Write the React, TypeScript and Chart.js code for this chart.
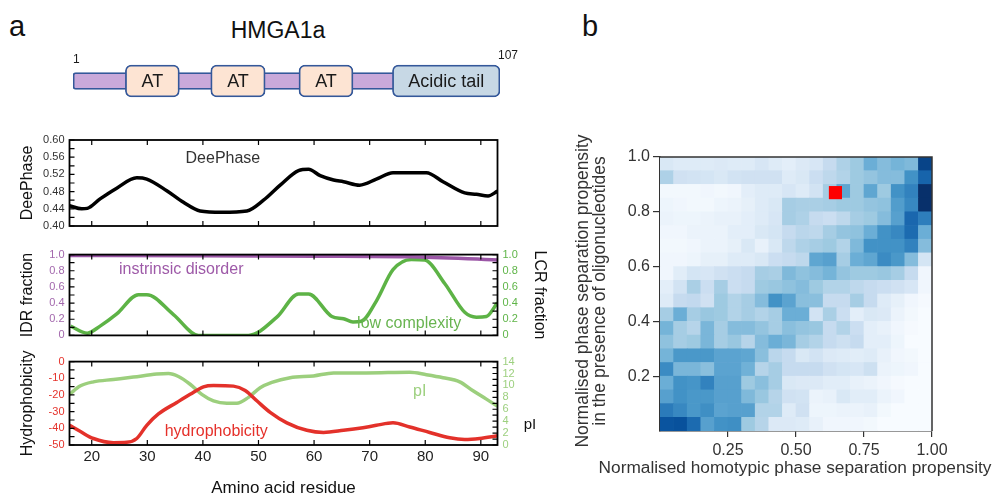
import React, { useEffect, useRef } from 'react';
import { Chart, registerables } from 'chart.js';
Chart.register(...registerables);

const FONT = '"Liberation Sans", Arial, Helvetica, sans-serif';

// ---------- Domain diagram ----------
const SEQ_START = 1;
const SEQ_END = 107;
const DOMAIN_LABELS = ['AT', 'AT', 'AT', 'Acidic tail'];
const DOMAIN_START = [14, 35.2, 57.1, 80.3];
const DOMAIN_END = [27.4, 48.7, 70.5, 107];
const BACKBONE = [1, 81];

// ---------- Residue profiles ----------
const X_MIN = 16;
const X_MAX = 93;
const X_TICKS = [20, 30, 40, 50, 60, 70, 80, 90];

const DEEPHASE_X = [16, 18.2, 19.2, 21.5, 24.5, 28.1, 29.9, 33.5, 36.5, 39.5, 43.4, 47.9, 50.9, 53.9, 57.2, 59, 61.1, 63.5, 65.3, 68.2, 71.2, 74.2, 80.2, 83.2, 87.1, 89.2, 91.3, 93];
const DEEPHASE_Y = [0.447, 0.44, 0.441, 0.463, 0.488, 0.512, 0.509, 0.482, 0.455, 0.435, 0.432, 0.435, 0.46, 0.495, 0.529, 0.532, 0.517, 0.507, 0.503, 0.495, 0.509, 0.524, 0.524, 0.503, 0.477, 0.474, 0.47, 0.481];

const IDR_X = [16, 40, 60, 77, 93];
const IDR_Y = [0.988, 0.986, 0.98, 0.972, 0.934];

const LCR_X = [16.2, 19.2, 21.5, 24.5, 28.4, 29.9, 34.7, 39.2, 48.2, 53.3, 57.2, 59, 63.2, 65.3, 67, 68.5, 71.2, 74.2, 77.5, 79.9, 83.5, 87.1, 89.2, 91, 93];
const LCR_Y = [0.115, 0.028, 0.115, 0.266, 0.504, 0.504, 0.258, 0.0, 0.0, 0.226, 0.512, 0.512, 0.234, 0.206, 0.167, 0.175, 0.425, 0.813, 0.94, 0.933, 0.643, 0.286, 0.226, 0.234, 0.405];

const HYD_X = [16, 17.9, 20.3, 23.9, 26.3, 28.1, 29.9, 32, 35.3, 37.7, 40.1, 41.9, 45.5, 47.6, 49.7, 52.1, 55.1, 58.7, 61.7, 65.3, 68.8, 71.2, 74.2, 77.2, 80.8, 84.4, 87.1, 89.8, 93];
const HYD_Y = [-38.2, -41.8, -46.1, -48.6, -48.4, -46.1, -38.2, -31.4, -24.5, -19.6, -15.1, -14.3, -14.7, -17.3, -23.5, -30.4, -36.7, -41.2, -42.5, -41.2, -39.6, -38.2, -36.7, -39.2, -42.5, -45.7, -46.7, -46.1, -44.5];

const PI_X = [16, 17.9, 20.3, 23.9, 27.5, 31.7, 33.8, 35.6, 37.7, 39.8, 41.9, 44.3, 46.1, 48.2, 50.3, 52.4, 55.7, 59.9, 63.5, 69.4, 77.2, 80.2, 83.2, 86.2, 88.6, 91, 93];
const PI_Y = [8.5, 9.9, 10.6, 11.0, 11.4, 11.9, 12.0, 11.5, 10.2, 8.5, 7.4, 7.0, 7.0, 8.0, 9.6, 10.5, 11.3, 11.6, 12.1, 12.1, 12.2, 11.8, 11.3, 10.6, 9.1, 7.7, 6.5];

const DEEPHASE_TICKS = [0.4, 0.42, 0.44, 0.46, 0.48, 0.5, 0.52, 0.54, 0.56, 0.58, 0.6];
const FRACTION_TICKS = [0, 0.1, 0.2, 0.3, 0.4, 0.5, 0.6, 0.7, 0.8, 0.9, 1];
const HYD_TICKS = [-50, -45, -40, -35, -30, -25, -20, -15, -10, -5, 0];
const PI_TICKS = [0, 1, 2, 3, 4, 5, 6, 7, 8, 9, 10, 11, 12, 13, 14];

// ---------- Heatmap (rows listed top -> bottom, 0..8 on the Blues scale) ----------
const HEAT_BINS = 20;
const HEAT_VALUES = [
  [1.2, 1, 1, 1, 1.1, 1, 1, 1.3, 1, 0.8, 1.1, 1.3, 2, 2.6, 3, 4, 3.5, 3.8, 3.6, 7.4],
  [2.6, 1.6, 1.5, 1.4, 1.2, 1.5, 1.6, 1.6, 1.6, 1.0, 1.2, 1.8, 2.2, 2.5, 3, 3.2, 3.5, 3.5, 5, 6.4],
  [0.2, 0.2, 0.2, 0.3, 0.2, 0.3, 0.8, 1, 1, 1.3, 1, 1.5, 2.8, 4.3, 3, 4.3, 3, 5, 5.5, 8],
  [0.4, 0.3, 0.2, 0.2, 0.4, 0.5, 0.7, 1, 1.2, 2.8, 2.7, 2.7, 2.8, 3, 3, 3.2, 3.3, 4.6, 5.3, 8],
  [0.5, 0.4, 0.4, 0.5, 0.6, 0.6, 0.8, 1, 1.3, 2.8, 2.6, 2, 1.8, 2.2, 2.8, 3, 3.5, 4.5, 6.3, 5.6],
  [0.3, 0.3, 0.5, 0.5, 0.5, 0.8, 0.8, 1.2, 1.4, 2, 2.3, 2.2, 2.8, 3.2, 3.3, 4, 5, 5.3, 6.2, 4],
  [0.2, 0.2, 0.3, 0.5, 0.5, 0.7, 1.2, 0.6, 1.2, 2.2, 2.6, 2.8, 3, 2.5, 3.6, 5, 5, 5, 5.5, 3.5],
  [0.3, 0.3, 0.4, 0.7, 0.7, 1, 1, 1.2, 1.8, 2, 2.2, 4.3, 4.5, 2.8, 4, 4.3, 5.2, 4.8, 3.5, 1.4],
  [0.3, 0.9, 1.4, 1.3, 1.6, 1.8, 2, 2.8, 2.7, 3.6, 3.3, 3.5, 3.8, 3.2, 3, 3, 3.1, 2.8, 2, 0.3],
  [0.8, 1.5, 2.7, 1.8, 2.8, 1.8, 2, 3, 3.1, 3.3, 3.5, 3, 2.5, 2.5, 2.2, 2, 1.8, 1.6, 1.3, 0.3],
  [1, 2, 2.1, 1.6, 3, 2.5, 2.8, 3.5, 5, 4.4, 3.4, 3.4, 2, 2, 2.8, 2, 1, 0.7, 0.3, 0.1],
  [2.8, 4, 2.8, 3.1, 3, 2.5, 2.8, 2.5, 2.8, 4, 4, 1.5, 2.7, 1.8, 0.8, 1.2, 1.1, 0.5, 0.2, 0],
  [3.8, 2.8, 2.4, 3.7, 2.8, 3.5, 3.5, 3.2, 2.8, 3.4, 3.2, 3.1, 2, 2.5, 1.8, 0.8, 0.6, 0.3, 0.1, 0],
  [3.3, 2.8, 3, 3.7, 2.8, 3.1, 2.4, 3.5, 4, 3.7, 2.8, 2.5, 2, 1.7, 2, 0.8, 0.8, 0.4, 0, 0],
  [3.8, 4.8, 4.8, 4.8, 4.4, 4.4, 4.3, 3.4, 2.3, 2, 1.2, 1.5, 1.1, 1, 0.9, 1, 0.6, 0.3, 0.2, 0],
  [5.2, 3.7, 3.7, 3.4, 4.4, 4.4, 3.9, 2.4, 2.8, 2, 2, 2, 1.6, 1.4, 1.3, 1.7, 0.5, 0.4, 0.3, 0],
  [4, 5, 4.9, 5.5, 4.5, 4.5, 3, 3.4, 2.8, 1.2, 1.1, 1.1, 0.9, 0.9, 0.6, 0.5, 0.3, 0.1, 0, 0],
  [4.5, 5, 4.8, 4.8, 4.5, 4.5, 3.6, 3.1, 2.4, 1.6, 1.5, 0.5, 0.6, 1.2, 0.9, 0.9, 0.5, 0.3, 0, 0],
  [5.7, 5.3, 4.8, 5.1, 4.4, 4.5, 4.5, 2.5, 2.5, 1, 1.6, 0.4, 0.4, 0.5, 0.5, 0.6, 0.2, 0, 0, 0],
  [6.9, 7, 6.2, 4.5, 5, 5.1, 3, 2.4, 1.1, 1.1, 1, 0.6, 0.3, 0.3, 0.3, 0.2, 0, 0, 0, 0],
];
const HMGA1A_X = [0.645];
const HMGA1A_Y = [0.87];
const HEAT_X_TICKS = ['0.25', '0.50', '0.75', '1.00'];
const HEAT_Y_TICKS = ['0.2', '0.4', '0.6', '0.8', '1.0'];
const HEAT_X_TITLE = 'Normalised homotypic phase separation propensity';
const HEAT_Y_TITLE = ['Normalised phase separation propensity', 'in the presence of oligonucleotides'];

const BLUES = ['#f7fbff', '#deebf7', '#c6dbef', '#9ecae1', '#6baed6', '#4292c6', '#2171b5', '#08519c', '#08306b'];
function hexToRgb(h: string) {
  return [parseInt(h.slice(1, 3), 16), parseInt(h.slice(3, 5), 16), parseInt(h.slice(5, 7), 16)];
}
function blues(v: number) {
  const t = Math.max(0, Math.min(8, v));
  const i = Math.min(7, Math.floor(t));
  const f = t - i;
  const a = hexToRgb(BLUES[i]);
  const b = hexToRgb(BLUES[i + 1]);
  const c = a.map((x, k) => Math.round(x + (b[k] - x) * f));
  return `rgb(${c[0]},${c[1]},${c[2]})`;
}

type Note = { text: string; x: number; y: number; color: string; size: number; yAxis: string };

function decorPlugin(cfg: {
  left?: number[];
  right?: number[];
  rightAxis?: string;
  notes?: Note[];
  sideText?: { text: string; dx: number; dy: number; size: number; color: string };
}) {
  return {
    id: 'decor',
    afterDatasetsDraw(chart: any) {
      const { ctx, chartArea: ca, scales } = chart;
      ctx.save();
      for (const n of cfg.notes || []) {
        ctx.font = `${n.size}px ${FONT}`;
        ctx.fillStyle = n.color;
        ctx.textAlign = 'center';
        ctx.textBaseline = 'middle';
        ctx.fillText(n.text, scales.x.getPixelForValue(n.x), scales[n.yAxis].getPixelForValue(n.y));
      }
      if (cfg.sideText) {
        const s = cfg.sideText;
        ctx.font = `${s.size}px ${FONT}`;
        ctx.fillStyle = s.color;
        ctx.textAlign = 'center';
        ctx.textBaseline = 'middle';
        ctx.fillText(s.text, ca.right + s.dx, ca.top + s.dy);
      }
      ctx.strokeStyle = '#000';
      ctx.lineWidth = 1.2;
      ctx.beginPath();
      for (const v of X_TICKS) {
        const px = scales.x.getPixelForValue(v);
        ctx.moveTo(px, ca.bottom);
        ctx.lineTo(px, ca.bottom - 5);
        ctx.moveTo(px, ca.top);
        ctx.lineTo(px, ca.top + 5);
      }
      for (const v of cfg.left || []) {
        const py = scales.y.getPixelForValue(v);
        ctx.moveTo(ca.left, py);
        ctx.lineTo(ca.left + 5, py);
      }
      if (cfg.rightAxis) {
        for (const v of cfg.right || []) {
          const py = scales[cfg.rightAxis].getPixelForValue(v);
          ctx.moveTo(ca.right, py);
          ctx.lineTo(ca.right - 5, py);
        }
      }
      ctx.stroke();
      ctx.lineWidth = 1.8;
      ctx.strokeRect(ca.left, ca.top, ca.right - ca.left, ca.bottom - ca.top);
      ctx.restore();
    },
  };
}

const noInteract = { legend: { display: false }, tooltip: { enabled: false } };

function yAxis(opts: any) {
  return {
    min: opts.min,
    max: opts.max,
    position: opts.position || 'left',
    ticks: {
      stepSize: opts.step,
      autoSkip: false,
      font: { family: FONT, size: 11 },
      color: opts.color,
      padding: 5,
      callback: opts.fmt,
    },
    grid: { display: false, drawTicks: false },
    border: { display: false },
    title: opts.title
      ? {
          display: true,
          text: opts.title,
          font: { family: FONT, size: 16 },
          color: '#111',
          padding: { top: opts.titlePad, bottom: 0 },
        }
      : { display: false },
    afterFit: (s: any) => {
      s.width = opts.width;
    },
  };
}

function hiddenX() {
  return { type: 'linear', min: X_MIN, max: X_MAX, display: false };
}

function ChartCanvas({ left, top, width, height, build }: { left: number; top: number; width: number; height: number; build: () => any }) {
  const ref = useRef<HTMLCanvasElement>(null);
  useEffect(() => {
    const chart = new Chart(ref.current as HTMLCanvasElement, build());
    return () => chart.destroy();
  }, []);
  return <canvas ref={ref} width={width} height={height} style={{ position: 'absolute', left, top, width, height }} />;
}

function pts(xs: number[], ys: number[]) {
  return xs.map((x, i) => ({ x, y: ys[i] }));
}

function buildDomains() {
  const labelPlugin = {
    id: 'domainLabels',
    afterDatasetsDraw(chart: any) {
      const { ctx, scales } = chart;
      const meta = chart.getDatasetMeta(0);
      ctx.save();
      ctx.fillStyle = '#1a1a1a';
      ctx.textAlign = 'center';
      ctx.textBaseline = 'middle';
      ctx.font = `18px ${FONT}`;
      meta.data.forEach((el: any, i: number) => {
        const p = el.getProps(['x', 'base', 'y'], true);
        ctx.fillText(DOMAIN_LABELS[i], (p.x + p.base) / 2, p.y + 1);
      });
      const yc = (chart.chartArea.top + chart.chartArea.bottom) / 2;
      ctx.font = `12px ${FONT}`;
      ctx.textAlign = 'left';
      ctx.fillText(String(SEQ_START), scales.x.getPixelForValue(SEQ_START), yc - 21);
      ctx.fillText(String(SEQ_END), scales.x.getPixelForValue(SEQ_END) - 2, yc - 25);
      ctx.restore();
    },
  };
  return {
    type: 'bar',
    data: {
      labels: ['HMGA1a'],
      datasets: [
        {
          data: DOMAIN_START.map((s, i) => ({ x: [s, DOMAIN_END[i]], y: 'HMGA1a' })),
          backgroundColor: DOMAIN_LABELS.map((l) => (l === 'AT' ? '#fde4d3' : '#c7d8e5')),
          borderColor: '#34589a',
          borderWidth: 1.8,
          borderSkipped: false,
          borderRadius: 6,
          barThickness: 32,
          grouped: false,
          order: 0,
        },
        {
          data: [{ x: BACKBONE, y: 'HMGA1a' }],
          backgroundColor: '#c9a9da',
          borderColor: '#34589a',
          borderWidth: 1.8,
          borderSkipped: false,
          borderRadius: 3,
          barThickness: 17,
          grouped: false,
          order: 1,
        },
      ],
    },
    options: {
      indexAxis: 'y',
      responsive: false,
      animation: false,
      events: [],
      layout: { padding: { left: 73, right: 60, top: 12, bottom: 0 } },
      scales: {
        x: { type: 'linear', min: SEQ_START, max: SEQ_END, display: false },
        y: { display: false },
      },
      plugins: noInteract,
    },
    plugins: [labelPlugin],
  };
}

function buildDeePhase() {
  return {
    type: 'line',
    data: {
      datasets: [
        {
          data: pts(DEEPHASE_X, DEEPHASE_Y),
          borderColor: '#000',
          borderWidth: 3.5,
          pointRadius: 0,
          cubicInterpolationMode: 'monotone',
        },
      ],
    },
    options: {
      responsive: false,
      animation: false,
      events: [],
      layout: { padding: { top: 12, bottom: 12, right: 62.5, left: 0 } },
      scales: {
        x: hiddenX(),
        y: yAxis({ min: 0.4, max: 0.6, step: 0.04, color: '#333', fmt: (v: any) => Number(v).toFixed(2), title: 'DeePhase', titlePad: 18, width: 69.5 }),
      },
      plugins: noInteract,
    },
    plugins: [
      decorPlugin({
        left: DEEPHASE_TICKS,
        notes: [{ text: 'DeePhase', x: 43.6, y: 0.556, color: '#333', size: 16, yAxis: 'y' }],
      }),
    ],
  };
}

function buildFractions() {
  const fmt = (v: any) => (Number(v) === 0 ? '0' : Number(v).toFixed(1));
  return {
    type: 'line',
    data: {
      datasets: [
        {
          data: pts(IDR_X, IDR_Y),
          borderColor: '#9b56a6',
          borderWidth: 3.5,
          pointRadius: 0,
          yAxisID: 'y',
          cubicInterpolationMode: 'monotone',
        },
        {
          data: pts(LCR_X, LCR_Y),
          borderColor: '#5db346',
          borderWidth: 3.5,
          pointRadius: 0,
          yAxisID: 'y1',
          cubicInterpolationMode: 'monotone',
        },
      ],
    },
    options: {
      responsive: false,
      animation: false,
      events: [],
      layout: { padding: { top: 10, bottom: 10, right: 0, left: 0 } },
      scales: {
        x: hiddenX(),
        y: yAxis({ min: 0, max: 1, step: 0.2, color: '#a368ad', fmt, title: 'IDR fraction', titlePad: 18, width: 69.5 }),
        y1: yAxis({ min: 0, max: 1, step: 0.2, color: '#5fb548', fmt, title: 'LCR fraction', titlePad: 11, width: 62.5, position: 'right' }),
      },
      plugins: noInteract,
    },
    plugins: [
      decorPlugin({
        left: FRACTION_TICKS,
        right: FRACTION_TICKS,
        rightAxis: 'y1',
        notes: [
          { text: 'instrinsic disorder', x: 36.1, y: 0.82, color: '#9e5aa8', size: 16, yAxis: 'y' },
          { text: 'low complexity', x: 77.1, y: 0.15, color: '#68b450', size: 16, yAxis: 'y' },
        ],
      }),
    ],
  };
}

function buildHydro() {
  const y = yAxis({ min: -50, max: 0, step: 10, color: '#e5332c', fmt: (v: any) => String(v), title: 'Hydrophobicity', titlePad: 18, width: 69.5 });
  const y1 = yAxis({ min: 0, max: 14, step: 2, color: '#9dd07f', fmt: (v: any) => String(v), width: 62.5, position: 'right' });
  return {
    type: 'line',
    data: {
      datasets: [
        {
          data: pts(HYD_X, HYD_Y),
          borderColor: '#e3312a',
          borderWidth: 3.5,
          pointRadius: 0,
          yAxisID: 'y',
          cubicInterpolationMode: 'monotone',
        },
        {
          data: pts(PI_X, PI_Y),
          borderColor: '#9ccf7d',
          borderWidth: 3.5,
          pointRadius: 0,
          yAxisID: 'y1',
          cubicInterpolationMode: 'monotone',
        },
      ],
    },
    options: {
      responsive: false,
      animation: false,
      events: [],
      layout: { padding: { top: 10, bottom: 0, right: 0, left: 0 } },
      scales: {
        x: {
          type: 'linear',
          min: X_MIN,
          max: X_MAX,
          ticks: {
            stepSize: 10,
            autoSkip: false,
            includeBounds: false,
            font: { family: FONT, size: 15 },
            color: '#222',
            padding: 2.5,
            callback: (v: any) => String(v),
          },
          grid: { display: false, drawTicks: false },
          border: { display: false },
          title: {
            display: true,
            text: 'Amino acid residue',
            font: { family: FONT, size: 17 },
            color: '#111',
            padding: { top: 0, bottom: 0 },
          },
          afterFit: (s: any) => {
            s.height = 54;
          },
        },
        y,
        y1,
      },
      plugins: noInteract,
    },
    plugins: [
      decorPlugin({
        left: HYD_TICKS,
        right: PI_TICKS,
        rightAxis: 'y1',
        notes: [
          { text: 'hydrophobicity', x: 42.4, y: -41.8, color: '#e5302a', size: 16, yAxis: 'y' },
          { text: 'pI', x: 79, y: 8.9, color: '#9dd07f', size: 16, yAxis: 'y1' },
        ],
        sideText: { text: 'pI', dx: 32.5, dy: 63, size: 15, color: '#111' },
      }),
    ],
  };
}

function buildHeatmap() {
  const cells: any[] = [];
  const colors: string[] = [];
  const step = 1 / HEAT_BINS;
  HEAT_VALUES.forEach((row, r) => {
    const rb = HEAT_BINS - 1 - r;
    row.forEach((v, c) => {
      cells.push({ x: (c + 0.5) * step, y: [rb * step, (rb + 1) * step] });
      colors.push(blues(v));
    });
  });
  const frame = {
    id: 'frame',
    afterDraw(chart: any) {
      const { ctx, chartArea: ca } = chart;
      ctx.save();
      ctx.strokeStyle = '#333';
      ctx.lineWidth = 1.5;
      ctx.beginPath();
      ctx.moveTo(ca.left, ca.top);
      ctx.lineTo(ca.right, ca.top);
      ctx.lineTo(ca.right, ca.bottom);
      ctx.stroke();
      // axis titles (drawn without width compression)
      ctx.fillStyle = '#333';
      ctx.textAlign = 'center';
      ctx.textBaseline = 'middle';
      ctx.font = `17.3px ${FONT}`;
      ctx.fillText(HEAT_X_TITLE, (ca.left + ca.right) / 2 - 1, ca.bottom + 37);
      ctx.font = `17.5px ${FONT}`;
      const cy = (ca.top + ca.bottom) / 2 - 3;
      HEAT_Y_TITLE.forEach((line, i) => {
        ctx.save();
        ctx.translate(ca.left - 76.5 + i * 17, cy);
        ctx.rotate(-Math.PI / 2);
        ctx.fillText(line, 0, 0);
        ctx.restore();
      });
      ctx.restore();
    },
  };
  const tickFont = { family: FONT, size: 16 };
  return {
    type: 'bar',
    data: {
      datasets: [
        {
          type: 'scatter',
          data: [{ x: HMGA1A_X[0], y: HMGA1A_Y[0] }],
          pointStyle: 'rect',
          pointRadius: 9.3,
          backgroundColor: '#ff0000',
          borderWidth: 0,
          order: -1,
        },
        {
          data: cells,
          backgroundColor: colors,
          borderWidth: 0,
          categoryPercentage: 1,
          barPercentage: 1,
          order: 0,
        },
      ],
    },
    options: {
      responsive: false,
      animation: false,
      events: [],
      layout: { padding: { top: 57, right: 64, left: 0, bottom: 0 } },
      scales: {
        x: {
          type: 'linear',
          min: 0,
          max: 1,
          offset: false,
          ticks: {
            stepSize: 0.25,
            autoSkip: false,
            font: tickFont,
            color: '#333',
            padding: 4,
            callback: (v: any, i: number) => HEAT_X_TICKS[i],
          },
          afterBuildTicks: (s: any) => {
            s.ticks = s.ticks.filter((t: any) => t.value > 0.001);
          },
          grid: { display: true, drawOnChartArea: false, drawTicks: true, tickLength: 6, color: '#333', lineWidth: 1.2, offset: false },
          border: { display: true, color: '#333', width: 1.5 },
          afterFit: (s: any) => {
            s.height = 68;
          },
        },
        y: {
          min: 0,
          max: 1,
          ticks: {
            stepSize: 0.2,
            autoSkip: false,
            font: tickFont,
            color: '#333',
            padding: 3,
            callback: (v: any, i: number) => HEAT_Y_TICKS[i],
          },
          afterBuildTicks: (s: any) => {
            s.ticks = s.ticks.filter((t: any) => t.value > 0.001);
          },
          grid: { display: true, drawOnChartArea: false, drawTicks: true, tickLength: 7, color: '#333', lineWidth: 1.2 },
          border: { display: true, color: '#333', width: 1.5 },
          afterFit: (s: any) => {
            s.width = 90;
          },
        },
      },
      plugins: noInteract,
    },
    plugins: [frame],
  };
}

const textStyle = (left: number, top: number, size: number): React.CSSProperties => ({
  position: 'absolute',
  left,
  top,
  fontFamily: FONT,
  fontSize: size,
  lineHeight: 1,
  color: '#111',
  whiteSpace: 'nowrap',
});

export default function App() {
  return (
    <div style={{ position: 'absolute', left: 0, top: 0, width: 996, height: 499, overflow: 'hidden', background: '#fff' }}>
      <div style={textStyle(9, 12, 29)}>a</div>
      <div style={textStyle(582, 12, 29)}>b</div>
      <div style={{ ...textStyle(0, 19, 23), width: 556, textAlign: 'center' }}>HMGA1a</div>
      <ChartCanvas left={0} top={40} width={560} height={70} build={buildDomains} />
      <ChartCanvas left={0} top={128} width={560} height={110} build={buildDeePhase} />
      <ChartCanvas left={0} top={243} width={560} height={104} build={buildFractions} />
      <ChartCanvas left={0} top={350} width={560} height={149} build={buildHydro} />
      <ChartCanvas left={570} top={100} width={426} height={399} build={buildHeatmap} />
    </div>
  );
}
